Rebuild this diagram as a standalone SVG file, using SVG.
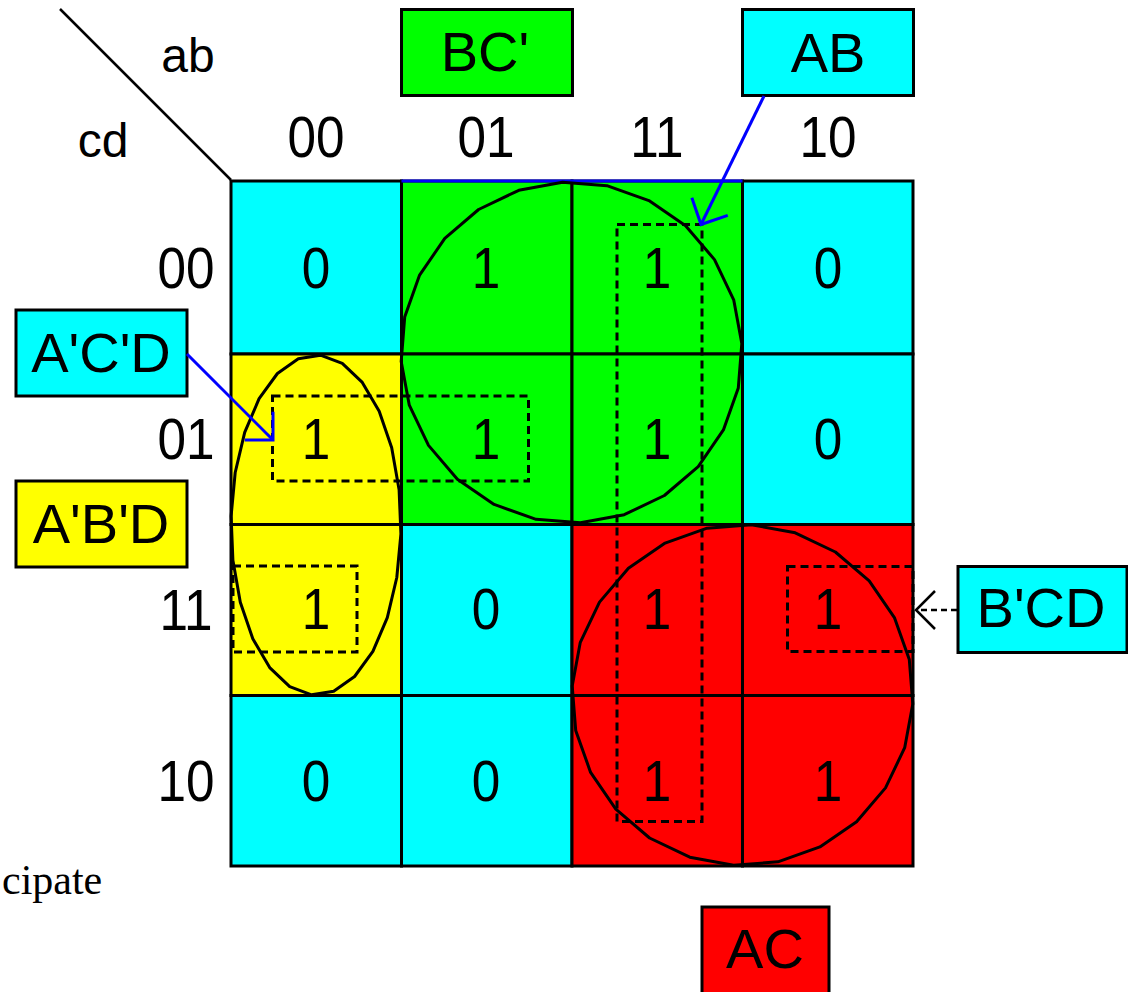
<svg xmlns="http://www.w3.org/2000/svg" width="1128" height="992" viewBox="0 0 1128 992">
<style>
.cell{stroke:#000;stroke-width:3}
.cy{fill:#00FFFF}.gr{fill:#00FF00}.ye{fill:#FFFF00}.rd{fill:#FF0000}
.t{font-family:"Liberation Sans",Arial,sans-serif;fill:#000;text-anchor:middle}
.dig{font-size:57px}
.lab{font-size:56px}
.ax{font-size:48px}
.loop{fill:none;stroke:#000;stroke-width:3;stroke-linejoin:round}
.dash{fill:none;stroke:#000;stroke-width:3;stroke-dasharray:8 5}
.box{stroke:#000;stroke-width:3}
.blue{fill:none;stroke:#0000FF;stroke-width:3}
.blk{fill:none;stroke:#000;stroke-width:2.5}
</style>
<defs>
<marker id="arrBlue" markerUnits="userSpaceOnUse" markerWidth="48" markerHeight="48" viewBox="-24 -24 48 48" refX="0" refY="0" orient="auto" overflow="visible">
<path d="M-20,-20 L0,0 L-20,20" fill="none" stroke="#0000FF" stroke-width="3"/>
</marker>
<marker id="arrBlack" markerUnits="userSpaceOnUse" markerWidth="48" markerHeight="48" viewBox="-24 -24 48 48" refX="0" refY="0" orient="auto" overflow="visible">
<path d="M-19,-19 L0,0 L-19,19" fill="none" stroke="#000" stroke-width="2.5"/>
</marker>
</defs>
<rect width="1128" height="992" fill="#fff"/>

<g id="corner">
<line x1="60" y1="9" x2="231" y2="180" stroke="#000" stroke-width="2.5"/>
<text class="t ax" x="188" y="72">ab</text>
<text class="t ax" x="103" y="157">cd</text>
</g>

<g id="kmap">
<rect class="cell cy" x="231" y="181" width="170.5" height="173"/>
<rect class="cell gr" x="401.5" y="181" width="170.5" height="173"/>
<rect class="cell gr" x="572" y="181" width="170.5" height="173"/>
<rect class="cell cy" x="742.5" y="181" width="170.5" height="173"/>
<rect class="cell ye" x="231" y="354" width="170.5" height="170.5"/>
<rect class="cell gr" x="401.5" y="354" width="170.5" height="170.5"/>
<rect class="cell gr" x="572" y="354" width="170.5" height="170.5"/>
<rect class="cell cy" x="742.5" y="354" width="170.5" height="170.5"/>
<rect class="cell ye" x="231" y="524.5" width="170.5" height="171"/>
<rect class="cell cy" x="401.5" y="524.5" width="170.5" height="171"/>
<rect class="cell rd" x="572" y="524.5" width="170.5" height="171"/>
<rect class="cell rd" x="742.5" y="524.5" width="170.5" height="171"/>
<rect class="cell cy" x="231" y="695.5" width="170.5" height="170.5"/>
<rect class="cell cy" x="401.5" y="695.5" width="170.5" height="170.5"/>
<rect class="cell rd" x="572" y="695.5" width="170.5" height="170.5"/>
<rect class="cell rd" x="742.5" y="695.5" width="170.5" height="170.5"/>
<line x1="401.5" y1="181" x2="742.5" y2="181" stroke="#0000FF" stroke-width="3"/>
</g>

<g id="headers" transform="scale(0.9 1)">
<text class="t dig" x="351.1" y="157">00</text>
<text class="t dig" x="540" y="157">01</text>
<text class="t dig" x="730" y="157">11</text>
<text class="t dig" x="920" y="157">10</text>
<text class="t dig" x="206.7" y="288">00</text>
<text class="t dig" x="206.7" y="459">01</text>
<text class="t dig" x="206.7" y="630">11</text>
<text class="t dig" x="206.7" y="801">10</text>
</g>

<g id="values" transform="scale(0.9 1)">
<text class="t dig" x="351.1" y="288">0</text>
<text class="t dig" x="540" y="288">1</text>
<text class="t dig" x="730" y="288">1</text>
<text class="t dig" x="920" y="288">0</text>
<text class="t dig" x="351.1" y="459">1</text>
<text class="t dig" x="540" y="459">1</text>
<text class="t dig" x="730" y="459">1</text>
<text class="t dig" x="920" y="459">0</text>
<text class="t dig" x="351.1" y="629">1</text>
<text class="t dig" x="540" y="629">0</text>
<text class="t dig" x="730" y="629">1</text>
<text class="t dig" x="920" y="629">1</text>
<text class="t dig" x="351.1" y="801">0</text>
<text class="t dig" x="540" y="801">0</text>
<text class="t dig" x="730" y="801">1</text>
<text class="t dig" x="920" y="801">1</text>
</g>

<g id="loop-BC">
<polygon class="loop" points="738.3,387.9 723.4,429.9 698.2,466.6 664.4,495.5 624.2,514.7 580.4,522.8 536.1,519.3 494.1,504.4 457.4,479.2 428.5,445.4 409.3,405.2 401.2,361.4 404.7,317.1 419.6,275.1 444.8,238.4 478.6,209.5 518.8,190.3 562.6,182.2 606.9,185.7 648.9,200.6 685.6,225.8 714.5,259.6 733.7,299.8 741.8,343.6"/>
</g>
<g id="loop-AC">
<polygon class="loop" points="912.8,703.9 904.7,747.7 885.5,787.9 856.6,821.7 819.9,846.9 777.9,861.8 733.6,865.3 689.8,857.2 649.6,838 615.8,809.1 590.6,772.4 575.7,730.4 572.2,686.1 580.3,642.3 599.5,602.1 628.4,568.3 665.1,543.1 707.1,528.2 751.4,524.7 795.2,532.8 835.4,552 869.2,580.9 894.4,617.6 909.3,659.6"/>
</g>
<g id="loop-ABD">
<polygon class="loop" points="400.9,533.9 396.8,577.5 387.3,617.6 372.9,651.3 354.6,676.5 333.7,691.3 311.6,694.8 289.7,686.7 269.7,667.6 252.8,638.7 240.3,602.2 232.9,560.3 231.1,516.1 235.2,472.5 244.7,432.4 259.1,398.7 277.4,373.5 298.3,358.7 320.4,355.2 342.3,363.3 362.3,382.4 379.2,411.3 391.7,447.8 399.1,489.7"/>
</g>
<g id="loop-ACD">
<rect class="dash" x="272.5" y="396" width="256" height="85"/>
</g>
<g id="loop-ABD-dash">
<rect class="dash" x="233" y="566" width="124" height="86"/>
</g>
<g id="loop-AB">
<rect class="dash" x="617" y="224.5" width="85" height="597"/>
</g>
<g id="loop-BCD">
<rect class="dash" x="787.5" y="566.5" width="125.5" height="85"/>
</g>

<g id="label-BC">
<rect class="box gr" x="401.5" y="9.5" width="171" height="86"/>
<text class="t lab" x="485" y="71">BC'</text>
</g>
<g id="label-AB">
<rect class="box cy" x="742.5" y="9.5" width="171" height="86"/>
<text class="t lab" x="828" y="72">AB</text>
</g>
<g id="label-ACD">
<rect class="box cy" x="16" y="310" width="171" height="86"/>
<text class="t lab" x="101" y="372">A'C'D</text>
</g>
<g id="label-ABD">
<rect class="box ye" x="16" y="481" width="171" height="86"/>
<text class="t lab" x="101" y="543">A'B'D</text>
</g>
<g id="label-BCD">
<rect class="box cy" x="958" y="566.5" width="169" height="86"/>
<text class="t lab" x="1041" y="627">B'CD</text>
</g>
<g id="label-AC">
<rect class="box rd" x="702" y="907" width="127" height="100"/>
<text class="t lab" x="765" y="968">AC</text>
</g>

<g id="connectors">
<line class="blue" x1="764" y1="96" x2="701" y2="224.5" marker-end="url(#arrBlue)"/>
<line class="blue" x1="187" y1="354" x2="273" y2="440" marker-end="url(#arrBlue)"/>
<line class="blk" x1="957" y1="610" x2="916" y2="610" stroke-dasharray="6 4" marker-end="url(#arrBlack)"/>
</g>

<text x="2" y="894" font-family="'Liberation Serif','Times New Roman',serif" font-size="42" fill="#000">cipate</text>
</svg>
